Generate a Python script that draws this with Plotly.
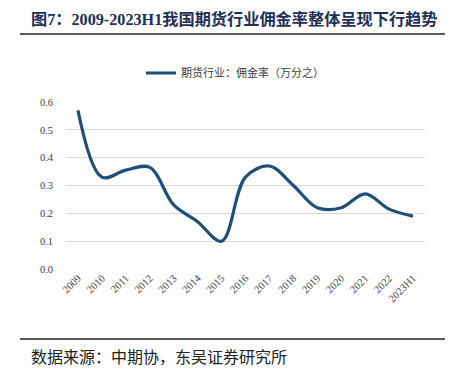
import plotly.graph_objects as go

categories = ["2009", "2010", "2011", "2012", "2013", "2014", "2015", "2016",
              "2017", "2018", "2019", "2020", "2021", "2022", "2023H1"]
commission_rate = [0.57, 0.33, 0.355, 0.365, 0.23, 0.17, 0.10, 0.33,
                   0.37, 0.30, 0.22, 0.22, 0.27, 0.215, 0.19]
series_name = "期货行业：佣金率（万分之）"
y_ticks = [0.0, 0.1, 0.2, 0.3, 0.4, 0.5, 0.6]

title_text = "图7：2009-2023H1我国期货行业佣金率整体呈现下行趋势"
source_text = "数据来源：中期协，东吴证券研究所"

W, H = 449, 379
L, R, T, B = 66, 24, 102, 110

fig = go.Figure()
fig.add_trace(go.Scatter(
    x=categories, y=commission_rate, mode="lines", name=series_name,
    line=dict(color="#1F4E79", width=3.2, shape="spline", smoothing=1.0),
))

fig.update_layout(
    width=W, height=H,
    margin=dict(l=L, r=R, t=T, b=B, autoexpand=False),
    paper_bgcolor="white", plot_bgcolor="white",
    font=dict(family="Liberation Serif, Noto Sans CJK SC", color="#404040", size=10),
    showlegend=True,
    legend=dict(orientation="h", xref="container", yref="container",
                x=141 / W, xanchor="left", y=1 - 73 / H, yanchor="middle",
                font=dict(family="Noto Sans CJK SC", size=11, color="#404040"),
                itemwidth=30, bgcolor="rgba(0,0,0,0)"),
    xaxis=dict(type="category", tickangle=-45, showgrid=False, showline=False,
               automargin=False,
               ticks="", tickfont=dict(family="Liberation Serif", size=10.5, color="#404040"),
               range=[-0.5, len(categories) - 0.5]),
    yaxis=dict(range=[0, 0.6], tickvals=y_ticks, ticktext=[f"{v:.1f}" for v in y_ticks],
               automargin=False,
               showgrid=True, gridcolor="#D9D9D9", gridwidth=1, zeroline=False,
               showline=False, ticks="", ticklabelstandoff=12,
               tickfont=dict(family="Liberation Serif", size=10.5, color="#404040")),
)

plot_h = H - T - B
def py(pix):
    return (H - B - pix) / plot_h

fig.add_annotation(text=f"<b>{title_text}</b>", xref="paper", yref="paper",
                   x=(29 - L) / (W - L - R), y=py(19), xanchor="left", yanchor="middle",
                   showarrow=False,
                   font=dict(family="Liberation Serif, Noto Sans CJK SC", size=16.2, color="#1F2F55"))
fig.add_annotation(text=source_text, xref="paper", yref="paper",
                   x=(29 - L) / (W - L - R), y=py(356), xanchor="left", yanchor="middle",
                   showarrow=False,
                   font=dict(family="Noto Sans CJK SC", size=16, color="#222222"))

for ypix in (34, 339):
    fig.add_shape(type="line", xref="paper", yref="paper",
                  x0=(20 - L) / (W - L - R), x1=(445 - L) / (W - L - R),
                  y0=py(ypix), y1=py(ypix), line=dict(color="#222222", width=1.5))

fig.write_html("out.html", config={"displayModeBar": False},
               post_script="document.body.style.margin='0';")
